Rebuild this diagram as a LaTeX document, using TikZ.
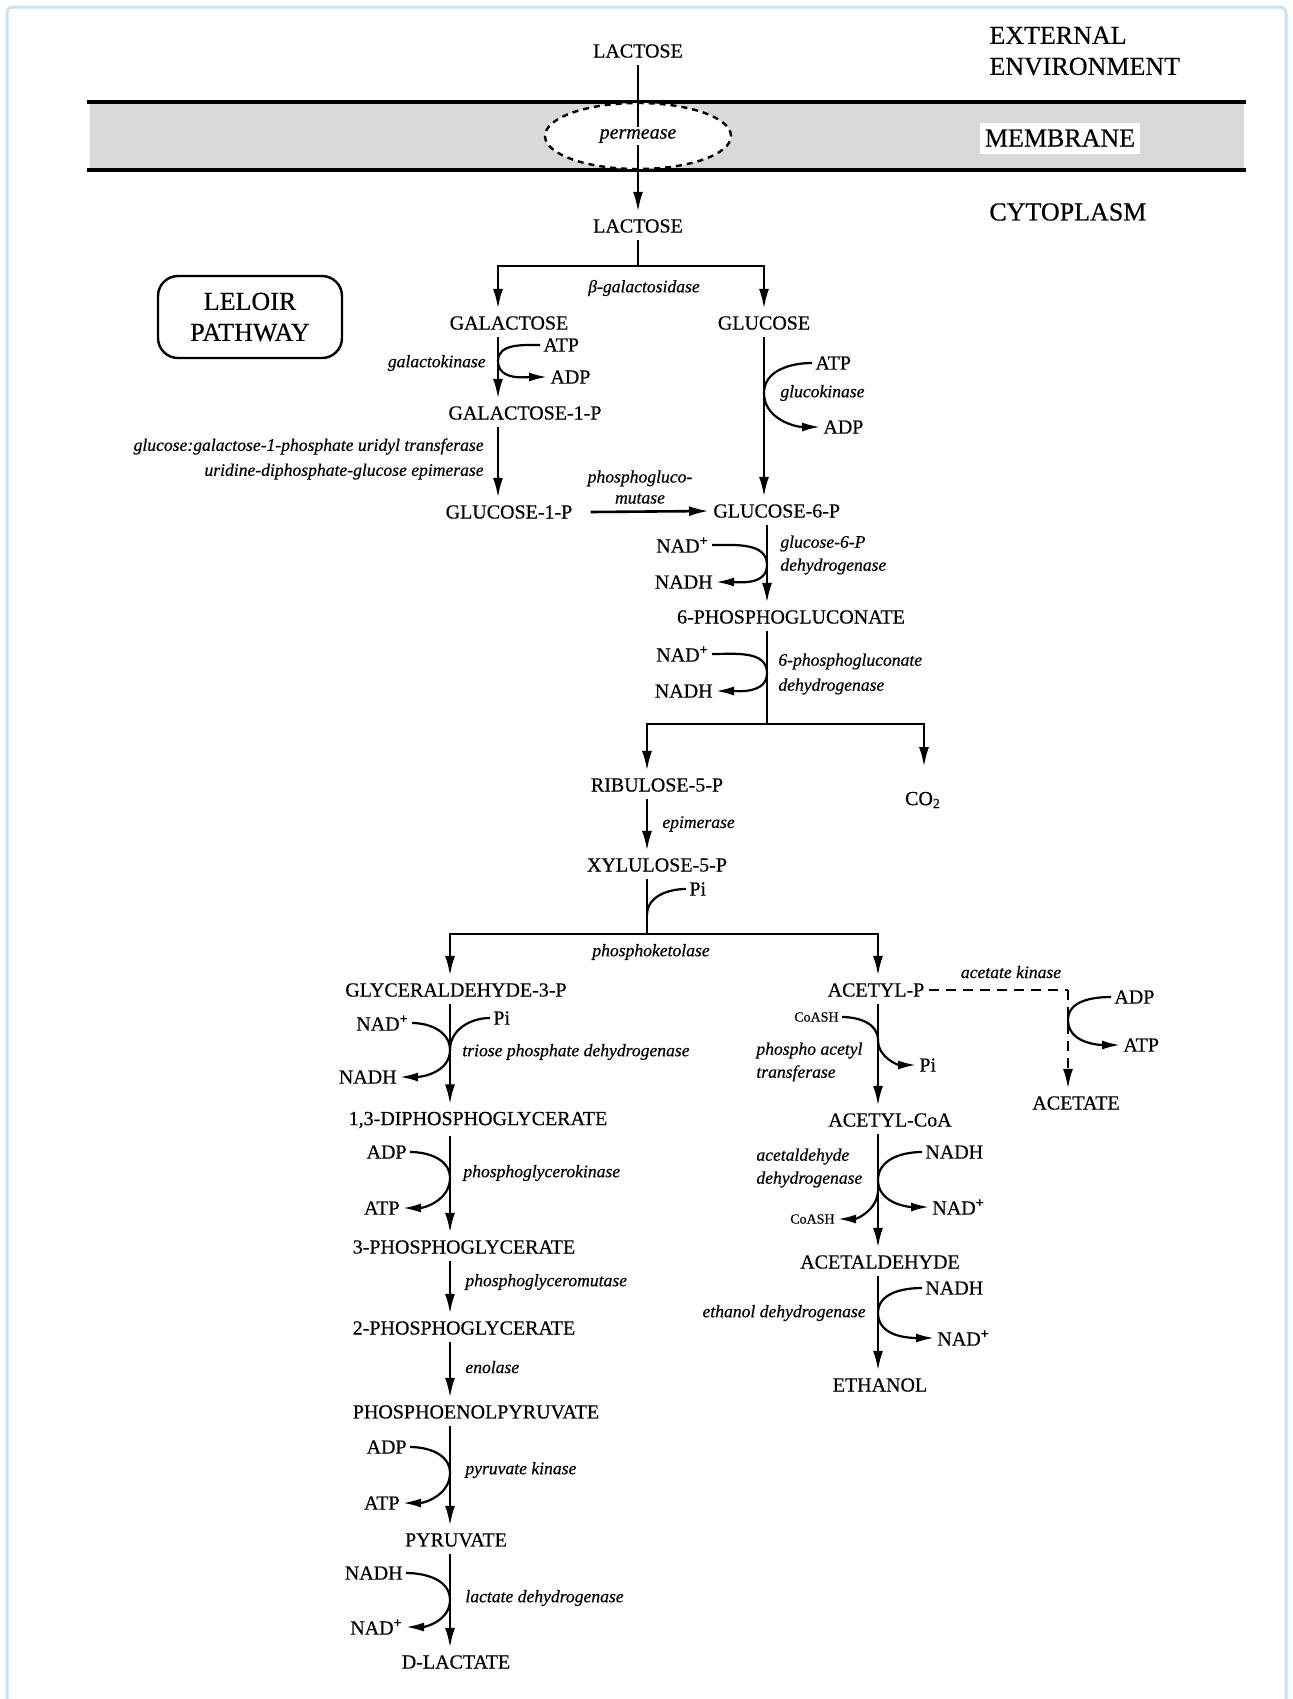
\documentclass[tikz,border=0pt]{standalone}
\usepackage{fontspec}
\setmainfont{Liberation Serif}[FakeBold=0.5]
\usepackage{tikz}
\usetikzlibrary{arrows.meta,positioning,shapes.geometric}
\definecolor{framec}{HTML}{C4E4F3}
\definecolor{membc}{HTML}{D9D9D9}
\tikzset{
  met/.style={font=\fontsize{10}{12}\selectfont,inner xsep=2pt,inner ysep=3.5pt},
  cof/.style={font=\fontsize{10}{12}\selectfont,inner sep=1.5pt},
  sml/.style={font=\fontsize{7}{8}\selectfont,inner sep=1.5pt},
  enz/.style={font=\fontsize{8.8}{12.5}\selectfont\itshape,inner sep=1pt},
  zone/.style={font=\fontsize{13}{15.5}\selectfont,inner sep=1pt,align=left},
  ar/.style={-{Latex[length=10pt,width=5pt]},line width=1.3pt},
  ln/.style={line width=1.3pt},
  cv/.style={-{Latex[length=9pt,width=4.5pt]},line width=1.1pt},
  cvn/.style={line width=1.1pt},
  dsh/.style={dash pattern=on 5pt off 3.5pt}
}
\newcommand{\plus}{\textsuperscript{\textbf{+}}}
\begin{document}
\begin{tikzpicture}[x=0.5pt,y=-0.5pt]
\useasboundingbox (0,0) rectangle (1293,1699);
% frame and membrane
\draw[framec,line width=1.5pt,rounded corners=3pt] (7,1699) -- (7,7) -- (1286,7) -- (1286,1699);
\fill[membc] (90,104) rectangle (1244,168);
\draw[line width=1.6pt] (87,102) -- (1246,102);
\draw[line width=1.6pt] (87,170) -- (1246,170);
\node[ellipse,draw,dash pattern=on 3pt off 2.5pt,line width=1.2pt,fill=white,minimum width=93pt,minimum height=33pt,inner sep=0pt] (perm) at (638,136) {};
\node[zone,anchor=west] (ext) at (987,51) {EXTERNAL\\ENVIRONMENT};
\node[zone,fill=white,minimum width=80pt,minimum height=15.5pt] (memb) at (1060,138) {MEMBRANE};
\node[zone,anchor=west] (cyto) at (987,212) {CYTOPLASM};
\node[zone,draw,line width=1.2pt,rounded corners=10pt,align=center,minimum width=92pt,minimum height=41pt] (leloir) at (250,317) {LELOIR\\PATHWAY};
% axes of the vertical paths
\coordinate (axGal) at (498,0);
\coordinate (axGlc) at (764,0);
\coordinate (axG6) at (767,0);
\coordinate (axRu) at (647,0);
\coordinate (axCO) at (924,0);
\coordinate (axGly) at (450,0);
\coordinate (axAc) at (878,0);
% lactose uptake and hydrolysis
\node[met] (lacOut) at (638,51) {LACTOSE};
\node[met] (lacIn) at (638,226) {LACTOSE};
\draw[ar] (lacOut) -- (lacIn);
\node[fill=white,inner sep=1pt,font=\fontsize{10}{12}\selectfont\itshape] (permTxt) at (perm) {permease};
\coordinate (brL) at (638,266);
\node[met] (gal) at (509,323) {GALACTOSE};
\node[met] (glc) at (764,323) {GLUCOSE};
\draw[ln] (lacIn) -- (brL);
\draw[ar] (brL) -| (gal.north -| axGal);
\draw[ar] (brL) -| (glc.north -| axGlc);
\node[enz] (bgal) at (644,288) {β-galactosidase};
% Leloir pathway
\node[met] (gal1p) at (525,413) {GALACTOSE-1-P};
\draw[ar] (gal.south -| axGal) -- (gal1p.north -| axGal);
\node[cof,anchor=west] (atpA) at (540,345) {ATP};
\node[cof,anchor=west] (adpA) at (547,377) {ADP};
\coordinate (tA) at (498,361);
\draw[cv] (atpA.west) to[out=180,in=90] (tA) to[out=-90,in=180] (adpA.west);
\node[enz,anchor=east] (galk) at (488,363) {galactokinase};
\node[met] (glc1p) at (509,512) {GLUCOSE-1-P};
\draw[ar] (gal1p.south -| axGal) -- (glc1p.north -| axGal);
\node[enz,anchor=east,align=right] (galt) at (486,459) {glucose:galactose-1-phosphate uridyl transferase\\uridine-diphosphate-glucose epimerase};
\node[met,anchor=west] (glc6p) at (709,511) {GLUCOSE-6-P};
\draw[ar] ([xshift=7pt]glc1p.east) -- (glc6p.west);
\node[enz,align=center,font=\fontsize{8.8}{10.5}\selectfont\itshape] (pgm) at (640,487) {phosphogluco-\\mutase};
% glucose
\draw[ar] (glc.south -| axGlc) -- (glc6p.north -| axGlc);
\node[cof,anchor=west] (atpB) at (812,363) {ATP};
\node[cof,anchor=west] (adpB) at (820,427) {ADP};
\coordinate (tB) at (764,393);
\draw[cv] (atpB.west) to[out=180,in=90] (tB) to[out=-90,in=180] (adpB.west);
\node[enz,anchor=west] (glck) at (778,393) {glucokinase};
% oxidative part
\node[met] (pgl) at (791,617) {6-PHOSPHOGLUCONATE};
\draw[ar] (glc6p.south -| axG6) -- (pgl.north -| axG6);
\node[cof,anchor=east] (nadA) at (712,545) {NAD\plus};
\node[cof,anchor=east] (nadhA) at (716,582) {NADH};
\coordinate (tC) at (767,565);
\draw[cv] (nadA.east) to[out=0,in=90] (tC) to[out=-90,in=0] (nadhA.east);
\node[enz,anchor=west,align=left,font=\fontsize{8.8}{11.5}\selectfont\itshape] (g6pd) at (778,555) {glucose-6-P\\dehydrogenase};
\coordinate (brP) at (767,724);
\draw[ln] (pgl.south -| axG6) -- (brP);
\node[cof,anchor=east] (nadB) at (712,654) {NAD\plus};
\node[cof,anchor=east] (nadhB) at (716,691) {NADH};
\coordinate (tD) at (767,673);
\draw[cv] (nadB.east) to[out=0,in=90] (tD) to[out=-90,in=0] (nadhB.east);
\node[enz,anchor=west,align=left] (pgd) at (776,674) {6-phosphogluconate\\dehydrogenase};
\node[met] (ru5p) at (657,785) {RIBULOSE-5-P};
\node[met] (co2) at (923,800) {CO\textsubscript{2}};
\coordinate (co2in) at (924,767);
\draw[ar] (brP) -| (ru5p.north -| axRu);
\draw[ar] (brP) -| (co2in);
\node[met] (xu5p) at (657,865) {XYLULOSE-5-P};
\draw[ar] (ru5p.south -| axRu) -- (xu5p.north -| axRu);
\node[enz,anchor=west] (epi) at (660,824) {epimerase};
% phosphoketolase split
\coordinate (brX) at (647,934);
\draw[ln] (xu5p.south -| axRu) -- (brX);
\node[cof,anchor=west] (piA) at (686,889) {Pi};
\coordinate (tE) at (647,915);
\draw[cvn] (piA.west) to[out=180,in=90] (tE);
\node[met] (gap) at (456,990) {GLYCERALDEHYDE-3-P};
\node[met] (acp) at (876,990) {ACETYL-P};
\draw[ar] (brX) -| (gap.north -| axGly);
\draw[ar] (brX) -| (acp.north -| axAc);
\node[enz] (pkl) at (651,952) {phosphoketolase};
% lower glycolysis
\node[met] (bpg) at (478,1120) {1,3-DIPHOSPHOGLYCERATE};
\draw[ar] (gap.south -| axGly) -- (bpg.north -| axGly);
\node[cof,anchor=east] (nadC) at (412,1023) {NAD\plus};
\node[cof,anchor=east] (nadhC) at (400,1077) {NADH};
\node[cof,anchor=west] (piB) at (490,1018) {Pi};
\coordinate (tF) at (450,1050);
\draw[cv] (nadC.east) to[out=0,in=90] (tF) to[out=-90,in=0] (nadhC.east);
\draw[cvn] (piB.west) to[out=180,in=90] (tF);
\node[enz,anchor=west] (tpd) at (460,1052) {triose phosphate dehydrogenase};
\node[met] (pg3) at (464,1247) {3-PHOSPHOGLYCERATE};
\draw[ar] (bpg.south -| axGly) -- (pg3.north -| axGly);
\node[cof,anchor=east] (adpC) at (410,1152) {ADP};
\node[cof,anchor=east] (atpC) at (403,1208) {ATP};
\coordinate (tG) at (450,1178);
\draw[cv] (adpC.east) to[out=0,in=90] (tG) to[out=-90,in=0] (atpC.east);
\node[enz,anchor=west] (pgk) at (461,1173) {phosphoglycerokinase};
\node[met] (pg2) at (464,1328) {2-PHOSPHOGLYCERATE};
\draw[ar] (pg3.south -| axGly) -- (pg2.north -| axGly);
\node[enz,anchor=west] (pgm2) at (463,1282) {phosphoglyceromutase};
\node[met] (pep) at (476,1412) {PHOSPHOENOLPYRUVATE};
\draw[ar] (pg2.south -| axGly) -- (pep.north -| axGly);
\node[enz,anchor=west] (eno) at (463,1367) {enolase};
\node[met] (pyr) at (456,1540) {PYRUVATE};
\draw[ar] (pep.south -| axGly) -- (pyr.north -| axGly);
\node[cof,anchor=east] (adpD) at (410,1447) {ADP};
\node[cof,anchor=east] (atpD) at (403,1503) {ATP};
\coordinate (tH) at (450,1473);
\draw[cv] (adpD.east) to[out=0,in=90] (tH) to[out=-90,in=0] (atpD.east);
\node[enz,anchor=west] (pk) at (463,1470) {pyruvate kinase};
\node[met] (dlac) at (456,1662) {D-LACTATE};
\draw[ar] (pyr.south -| axGly) -- (dlac.north -| axGly);
\node[cof,anchor=east] (nadhD) at (406,1573) {NADH};
\node[cof,anchor=east] (nadD) at (406,1627) {NAD\plus};
\coordinate (tI) at (450,1600);
\draw[cv] (nadhD.east) to[out=0,in=90] (tI) to[out=-90,in=0] (nadD.east);
\node[enz,anchor=west] (ldh) at (463,1598) {lactate dehydrogenase};
% acetyl branch
\node[met] (acoa) at (890,1120) {ACETYL-CoA};
\draw[ar] (acp.south -| axAc) -- (acoa.north -| axAc);
\node[sml,anchor=east] (coaA) at (842,1017) {CoASH};
\node[cof,anchor=west] (piC) at (916,1065) {Pi};
\coordinate (tJ) at (878,1040);
\draw[cv] (coaA.east) to[out=0,in=90] (tJ) to[out=-90,in=180] (piC.west);
\node[enz,anchor=west,align=left,font=\fontsize{8.8}{11.5}\selectfont\itshape] (pta) at (754,1062) {phospho acetyl\\transferase};
\coordinate (akC) at (1068,990);
\node[met] (ace) at (1076,1103) {ACETATE};
\draw[ln,dsh] (acp.east) -- (akC);
\draw[ar,dsh] (akC) -- (ace.north -| akC);
\node[enz] (ack) at (1011,972) {acetate kinase};
\node[cof,anchor=west] (adpE) at (1111,997) {ADP};
\node[cof,anchor=west] (atpE) at (1120,1045) {ATP};
\coordinate (tK) at (1068,1020);
\draw[cv] (adpE.west) to[out=180,in=90] (tK) to[out=-90,in=180] (atpE.west);
\node[met] (acald) at (880,1262) {ACETALDEHYDE};
\draw[ar] (acoa.south -| axAc) -- (acald.north -| axAc);
\node[cof,anchor=west] (nadhE) at (922,1152) {NADH};
\node[cof,anchor=west] (nadE) at (929,1207) {NAD\plus};
\coordinate (tL) at (878,1180);
\draw[cv] (nadhE.west) to[out=180,in=90] (tL) to[out=-90,in=180] (nadE.west);
\node[sml,anchor=east] (coaB) at (838,1219) {CoASH};
\coordinate (tM) at (878,1190);
\draw[cv] (tM) to[out=-90,in=0] (coaB.east);
\node[enz,anchor=west,align=left,font=\fontsize{8.8}{11.5}\selectfont\itshape] (ald) at (754,1168) {acetaldehyde\\dehydrogenase};
\node[met] (etoh) at (880,1385) {ETHANOL};
\draw[ar] (acald.south -| axAc) -- (etoh.north -| axAc);
\node[cof,anchor=west] (nadhF) at (922,1288) {NADH};
\node[cof,anchor=west] (nadF) at (934,1338) {NAD\plus};
\coordinate (tN) at (878,1313);
\draw[cv] (nadhF.west) to[out=180,in=90] (tN) to[out=-90,in=180] (nadF.west);
\node[enz,anchor=east] (adh) at (868,1313) {ethanol dehydrogenase};
\end{tikzpicture}
\end{document}
